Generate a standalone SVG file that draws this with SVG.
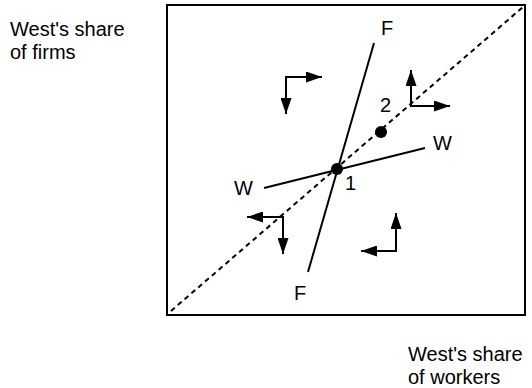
<svg xmlns="http://www.w3.org/2000/svg" width="532" height="388" viewBox="0 0 532 388">
<defs>
<marker id="ah" viewBox="0 0 16 11" refX="16" refY="5.5" markerWidth="16" markerHeight="11" markerUnits="userSpaceOnUse" orient="auto">
<path d="M0,0 L16,5.5 L0,11 Z" fill="#000"/>
</marker>
</defs>
<style>
text{font-family:"Liberation Sans",Arial,sans-serif;fill:#000}
.lab{font-size:20px}
.ax{font-size:20px}
.ln{stroke:#000;stroke-width:2;fill:none}
.dash{stroke:#000;stroke-width:2;fill:none;stroke-dasharray:5,4}
.arr{stroke:#000;stroke-width:2;fill:none;marker-end:url(#ah)}
</style>
<rect width="532" height="388" fill="#fff"/>
<g id="frame"><rect x="167" y="5" width="358" height="310" class="ln"/></g>
<g id="axis-labels">
<text class="ax" x="10" y="36">West's share</text>
<text class="ax" x="10" y="59">of firms</text>
<text class="ax" x="408" y="361">West's share</text>
<text class="ax" x="408" y="384">of workers</text>
</g>
<g id="connectors">
<line class="dash" x1="171" y1="311" x2="523" y2="7"/>
<line id="F" class="ln" x1="374" y1="43" x2="308" y2="272"/>
<line id="W" class="ln" x1="264" y1="188" x2="425" y2="148"/>
<path class="arr" d="M286,77 L322,77"/>
<path class="arr" d="M286,76 L286,114"/>
<path class="arr" d="M411,106 L411,70"/>
<path class="arr" d="M410,106 L450,106"/>
<path class="arr" d="M284,217 L247,217"/>
<path class="arr" d="M283,216 L283,254"/>
<path class="arr" d="M396,251 L396,213"/>
<path class="arr" d="M397,251 L361,251"/>
</g>
<g id="p1"><circle cx="337" cy="169" r="6"/><text class="lab" x="345" y="190">1</text></g>
<g id="p2"><circle cx="381" cy="132" r="6"/><text class="lab" x="380" y="112">2</text></g>
<g id="labels">
<text class="lab" x="381" y="35">F</text>
<text class="lab" x="294" y="300">F</text>
<text class="lab" x="234" y="195">W</text>
<text class="lab" x="433" y="150">W</text>
</g>
</svg>
